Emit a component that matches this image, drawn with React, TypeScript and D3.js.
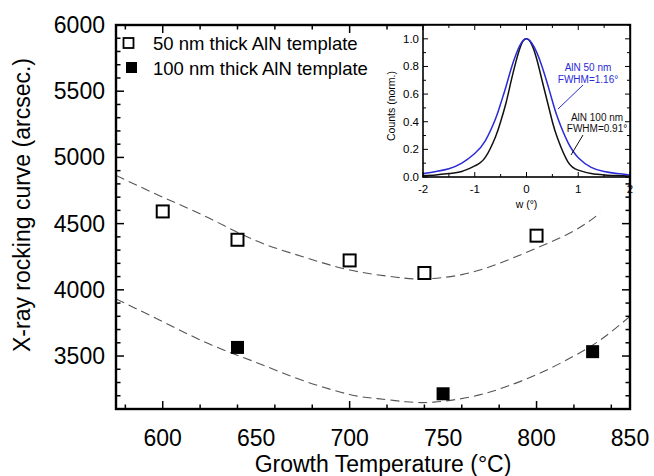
import React from 'react';
import * as d3 from 'd3';

// main plot data
const temp50 = [600, 640, 700, 740, 800];
const fwhm50 = [4592, 4378, 4222, 4127, 4409];
const temp100 = [640, 750, 830];
const fwhm100 = [3565, 3215, 3533];

// dashed fit curves
const fit50T = [575, 600, 625, 650, 675, 700, 725, 740, 760, 780, 800, 820, 834];
const fit50V = [4864, 4700, 4540, 4370, 4250, 4150, 4095, 4082, 4115, 4200, 4315, 4445, 4580];
const fit100T = [575, 600, 625, 650, 675, 700, 715, 730, 745, 766, 784, 802, 820, 835, 850];
const fit100V = [3931, 3760, 3590, 3452, 3315, 3210, 3178, 3155, 3152, 3195, 3270, 3372, 3500, 3630, 3800];

const xTicks = [600, 650, 700, 750, 800, 850];
const yTicks = [3500, 4000, 4500, 5000, 5500, 6000];

// inset rocking curves
const omega = [-2, -1.75, -1.5, -1.25, -1, -0.8, -0.6, -0.5, -0.4, -0.3, -0.2, -0.1, 0, 0.1, 0.2, 0.3, 0.4, 0.5, 0.6, 0.8, 1, 1.25, 1.5, 1.75, 2];
const counts50 = [0.025, 0.04, 0.06, 0.1, 0.17, 0.26, 0.42, 0.53, 0.65, 0.78, 0.89, 0.97, 1.0, 0.97, 0.9, 0.8, 0.68, 0.55, 0.43, 0.25, 0.14, 0.07, 0.04, 0.025, 0.015];
const counts100 = [0.01, 0.015, 0.025, 0.04, 0.08, 0.14, 0.29, 0.4, 0.53, 0.69, 0.84, 0.96, 1.0, 0.96, 0.85, 0.7, 0.55, 0.4, 0.28, 0.11, 0.05, 0.025, 0.015, 0.01, 0.007];
const insetXTicks = [-2, -1, 0, 1, 2];
const insetYTicks = [0, 0.2, 0.4, 0.6, 0.8, 1.0];

const font = 'Liberation Sans, Arial, sans-serif';

const App = () => {
  const Width = 654;
  const Height = 476;
  const x = d3.scaleLinear().domain([575, 850]).range([116, 630]);
  const y = d3.scaleLinear().domain([3100, 6000]).range([409, 25]);
  const [x0, x1] = x.range();
  const [y0, y1] = y.range();

  const ix = d3.scaleLinear().domain([-2, 2]).range([423, 630]);
  const iy = d3.scaleLinear().domain([0, 1.1]).range([177, 25]);
  const [ix0, ix1] = ix.range();
  const [iy0, iy1] = iy.range();

  const fitLine = d3.line<number[]>().x((d) => x(d[0])).y((d) => y(d[1])).curve(d3.curveNatural);
  const insetLine = d3.line<number[]>().x((d) => ix(d[0])).y((d) => iy(d[1])).curve(d3.curveNatural);

  const fit50 = fit50T.map((t, i) => [t, fit50V[i]]);
  const fit100 = fit100T.map((t, i) => [t, fit100V[i]]);
  const c50 = omega.map((w, i) => [w, counts50[i]]);
  const c100 = omega.map((w, i) => [w, counts100[i]]);

  const xMinor = x.ticks(11);
  const yMinor = y.ticks(29);
  const ixMinor = d3.range(-2, 2.01, 0.5);
  const iyMinor = d3.range(0, 1.101, 0.1);

  const sq = 12;

  return (
    <div style={{ position: 'absolute', left: 0, top: 0 }}>
      <svg width={Width} height={Height} style={{ display: 'block', background: '#fff' }} fontFamily={font}>
        <defs>
          <clipPath id="plotClip">
            <rect x={x0} y={y1} width={x1 - x0} height={y0 - y1} />
          </clipPath>
        </defs>

        {/* fits */}
        <g clipPath="url(#plotClip)" fill="none" stroke="#555" strokeWidth={1.1} strokeDasharray="9,5">
          <path d={fitLine(fit50) || ''} />
          <path d={fitLine(fit100) || ''} />
        </g>

        {/* points */}
        {temp50.map((t, i) => (
          <rect key={'o' + i} x={x(t) - sq / 2} y={y(fwhm50[i]) - sq / 2} width={sq} height={sq} fill="#fff" stroke="#000" strokeWidth={2} />
        ))}
        {temp100.map((t, i) => (
          <rect key={'f' + i} x={x(t) - (sq + 1) / 2} y={y(fwhm100[i]) - (sq + 1) / 2} width={sq + 1} height={sq + 1} fill="#000" />
        ))}

        {/* main ticks */}
        <g stroke="#000" strokeWidth={1.5}>
          {xMinor.map((t) => {
            const len = xTicks.includes(t) ? 8 : 4.5;
            return (
              <g key={'xt' + t}>
                <line x1={x(t)} x2={x(t)} y1={y0} y2={y0 - len} />
                <line x1={x(t)} x2={x(t)} y1={y1} y2={y1 + len} />
              </g>
            );
          })}
          {yMinor.map((v) => {
            const len = yTicks.includes(v) ? 8 : 4.5;
            return (
              <g key={'yt' + v}>
                <line x1={x0} x2={x0 + len} y1={y(v)} y2={y(v)} />
                <line x1={x1} x2={x1 - len} y1={y(v)} y2={y(v)} />
              </g>
            );
          })}
        </g>
        <rect x={x0} y={y1} width={x1 - x0} height={y0 - y1} fill="none" stroke="#000" strokeWidth={2.4} />

        {xTicks.map((t) => (
          <text key={'xl' + t} x={x(t)} y={446} textAnchor="middle" fontSize={23}>{t}</text>
        ))}
        {yTicks.map((v) => (
          <text key={'yl' + v} x={105} y={y(v) + 8} textAnchor="end" fontSize={23}>{v}</text>
        ))}
        <text x={(x0 + x1) / 2 + 10} y={472} textAnchor="middle" fontSize={23}>Growth Temperature (°C)</text>
        <text transform={`translate(30, 205) rotate(-90)`} textAnchor="middle" fontSize={23}>X-ray rocking curve (arcsec.)</text>

        {/* legend */}
        <rect x={123.5} y={38} width={10} height={10} fill="#fff" stroke="#000" strokeWidth={1.8} />
        <rect x={126} y={62} width={11} height={11} fill="#000" />
        <text x={153} y={50} fontSize={18.5}>50 nm thick AlN template</text>
        <text x={153} y={75} fontSize={18.5}>100 nm thick AlN template</text>

        {/* inset */}
        <rect x={ix0} y={iy1} width={ix1 - ix0} height={iy0 - iy1} fill="#fff" />
        <g fill="none" strokeWidth={1.5}>
          <path d={insetLine(c100) || ''} stroke="#111" />
          <path d={insetLine(c50) || ''} stroke="#2a2ad6" />
        </g>
        <g stroke="#000" strokeWidth={1}>
          {ixMinor.map((t) => {
            const len = insetXTicks.includes(t) ? 5 : 3;
            return (
              <g key={'ixt' + t}>
                <line x1={ix(t)} x2={ix(t)} y1={iy0} y2={iy0 - len} />
                <line x1={ix(t)} x2={ix(t)} y1={iy1} y2={iy1 + len} />
              </g>
            );
          })}
          {iyMinor.map((v, i) => {
            const len = i % 2 === 0 ? 5 : 3;
            return (
              <g key={'iyt' + i}>
                <line x1={ix0} x2={ix0 + len} y1={iy(v)} y2={iy(v)} />
                <line x1={ix1} x2={ix1 - len} y1={iy(v)} y2={iy(v)} />
              </g>
            );
          })}
        </g>
        <rect x={ix0} y={iy1} width={ix1 - ix0} height={iy0 - iy1} fill="none" stroke="#000" strokeWidth={1.6} />
        {insetXTicks.map((t) => (
          <text key={'ixl' + t} x={ix(t)} y={193} textAnchor="middle" fontSize={11.5}>{t < 0 ? '-' + Math.abs(t) : t}</text>
        ))}
        {insetYTicks.map((v) => (
          <text key={'iyl' + v} x={419} y={iy(v) + 4} textAnchor="end" fontSize={11.5}>{d3.format('.1f')(v)}</text>
        ))}
        <text x={ix(0)} y={208} textAnchor="middle" fontSize={10.5}>w (°)</text>
        <text transform={`translate(395, ${(iy0 + iy1) / 2 + 5}) rotate(-90)`} textAnchor="middle" fontSize={10.5}>Counts (norm.)</text>

        <text x={588} y={71} textAnchor="middle" fontSize={10} fill="#2a2ad6">AlN 50 nm</text>
        <text x={588} y={83} textAnchor="middle" fontSize={10} fill="#2a2ad6">FWHM=1.16°</text>
        <line x1={583} y1={85} x2={558} y2={109} stroke="#2a2ad6" strokeWidth={1} />
        <text x={597} y={121} textAnchor="middle" fontSize={10} fill="#111">AlN 100 nm</text>
        <text x={597} y={132} textAnchor="middle" fontSize={10} fill="#111">FWHM=0.91°</text>
        <line x1={583} y1={135} x2={571} y2={155} stroke="#111" strokeWidth={1} />
      </svg>
    </div>
  );
};

export default App;
